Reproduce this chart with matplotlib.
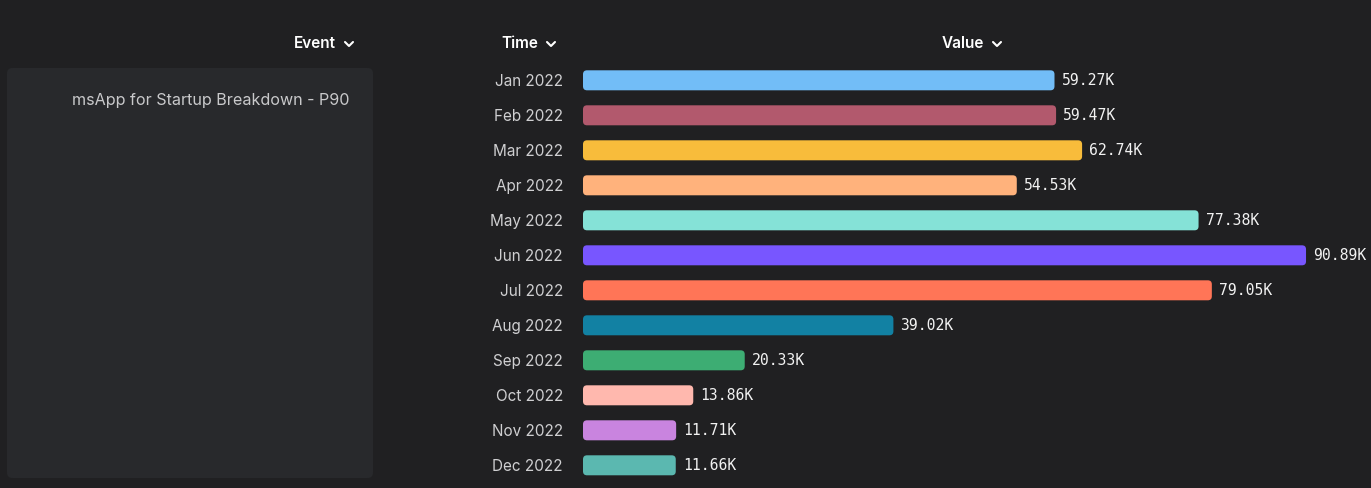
import matplotlib.pyplot as plt
import matplotlib.transforms as mtransforms
from matplotlib.patches import FancyBboxPatch
from matplotlib.lines import Line2D

# data
months = ['Jan 2022', 'Feb 2022', 'Mar 2022', 'Apr 2022', 'May 2022', 'Jun 2022',
          'Jul 2022', 'Aug 2022', 'Sep 2022', 'Oct 2022', 'Nov 2022', 'Dec 2022']
values = [59.27, 59.47, 62.74, 54.53, 77.38, 90.89, 79.05, 39.02, 20.33, 13.86, 11.71, 11.66]
labels = ['59.27K', '59.47K', '62.74K', '54.53K', '77.38K', '90.89K',
          '79.05K', '39.02K', '20.33K', '13.86K', '11.71K', '11.66K']
colors = ['#72bdf7', '#b2596d', '#f8bc3b', '#ffb27c', '#85e2d7', '#7856ff',
          '#ff7557', '#1281a3', '#3dad73', '#ffb8ae', '#c984df', '#5bb8b0']
event_name = 'msApp for Startup Breakdown - P90'

W, H = 1371, 488
bg = '#202022'
fig = plt.figure(figsize=(W / 100, H / 100), dpi=100, facecolor=bg)

px_per_k = 7.955
bar_x0 = 583
row0, row_step = 80.3, 35

ax = fig.add_axes([bar_x0 / W, 0, 1 - bar_x0 / W, 1])
ax.set_facecolor('none')
ax.set_xlim(0, (W - bar_x0) / px_per_k)
ax.set_ylim((H - row0) / row_step, -row0 / row_step)
ax.axis('off')

# left panel
panel = FancyBboxPatch((7 / W, 1 - 478 / H), 366 / W, 410 / H,
                       boxstyle='round,pad=0,rounding_size=0.004',
                       mutation_aspect=W / H, transform=fig.transFigure,
                       facecolor='#28292c', edgecolor='none')
fig.patches.append(panel)
fig.text(349 / W, 1 - 101 / H, event_name, ha='right', va='center',
         fontsize=11.6, color='#c9c9cb', family='Inter')

# bars
bar_h = 20 / row_step
r = 4 / px_per_k
# nudge text down ~1px so it lines up with bar centres
dy = 1.2 / row_step
for i, (v, c) in enumerate(zip(values, colors)):
    p = FancyBboxPatch((0, i - bar_h / 2), v, bar_h,
                       boxstyle=f'round,pad=0,rounding_size={r}',
                       mutation_aspect=(4 / row_step) / r,
                       facecolor=c, edgecolor='none')
    ax.add_patch(p)
    ax.text(v + 7 / px_per_k, i + dy * 0.5, labels[i], ha='left', va='center',
            fontsize=10.6, color='#f2f2f2', family='DejaVu Sans Mono')

trans = mtransforms.blended_transform_factory(fig.transFigure, ax.transData)
for i, m in enumerate(months):
    ax.text(563 / W, i + dy, m, transform=trans, ha='right', va='center',
            fontsize=11, color='#cfcfd1', family='Inter', clip_on=False)

# headers with chevrons
hy = 44
headers = [('Event', 336, 'right'), ('Time', 538, 'right'), ('Value', 984, 'right')]
for txt, x, ha in headers:
    fig.text(x / W, 1 - hy / H, txt, ha=ha, va='center', fontsize=11,
             color='#ffffff', family='Inter', weight='semibold')
    cx = x + 13
    fig.lines.append(Line2D([(cx - 4) / W, cx / W, (cx + 4) / W],
                            [1 - (hy - 2) / H, 1 - (hy + 2) / H, 1 - (hy - 2) / H],
                            transform=fig.transFigure, color='#ffffff',
                            linewidth=1.5, solid_capstyle='round',
                            solid_joinstyle='round'))

fig.savefig('out.png', dpi=100, facecolor=bg)
